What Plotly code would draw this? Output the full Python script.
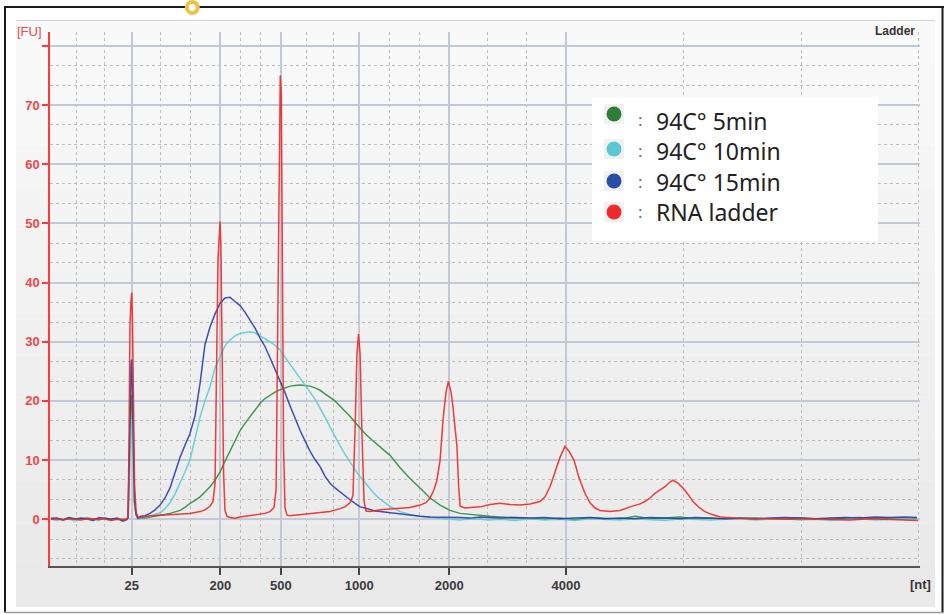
import plotly.graph_objects as go

# ---------------- data (migration time in s, fluorescence in FU) ----------------
t_samples = [19.06, 19.40, 19.75, 20.09, 20.44, 20.78, 21.13, 21.47, 21.82, 22.16,
             22.51, 22.85, 23.20, 23.43, 23.49, 23.54, 23.60, 23.66, 23.70, 23.74,
             23.80, 23.86, 23.95, 24.06, 24.23, 24.46, 24.75, 25.04, 25.33, 25.61,
             25.90, 26.19, 26.48, 26.76, 27.05, 27.34, 27.63, 27.91, 28.20, 28.49,
             28.78, 29.06, 29.35, 29.64, 29.93, 30.21, 30.50, 30.79, 31.08, 31.36,
             31.65, 31.94, 32.23, 32.51, 32.80, 33.09, 33.38, 33.66, 33.95, 34.24,
             34.53, 34.81, 35.10, 35.39, 35.68, 35.96, 36.25, 36.54, 36.83, 37.11,
             37.40, 37.69, 37.98, 38.55, 39.13, 39.70, 40.28, 40.85, 41.43, 42.00,
             42.58, 43.15, 43.73, 44.30, 44.88, 45.74, 46.60, 47.46, 48.33, 49.19,
             50.05, 50.91, 51.78, 52.64, 53.50, 54.36, 55.23, 56.09, 56.95, 57.81,
             58.68, 59.54, 60.40, 61.26, 62.13, 62.99, 63.85, 64.71, 65.58, 66.44,
             67.30, 68.16, 68.85]

fu_5min = [0.2, 0.1, 0.0, 0.2, 0.1, 0.0, 0.2, 0.1, -0.1, 0.2,
           0.0, 0.1, 0.0, 0.1, 0.3, 7, 17, 20.5, 21, 18,
           10, 3, 0.8, 0.1, 0.2, 0.2, 0.4, 0.5, 0.6, 0.8,
           1.0, 1.2, 1.5, 2.0, 2.7, 3.2, 3.8, 4.6, 5.5, 6.6,
           8.0, 9.8, 11.5, 13.2, 15.0, 16.2, 17.3, 18.5, 19.6, 20.4,
           21.0, 21.5, 21.9, 22.2, 22.5, 22.6, 22.7, 22.6, 22.5, 22.2,
           21.8, 21.2, 20.6, 20.0, 19.1, 18.3, 17.4, 16.4, 15.4, 14.5,
           13.7, 13.0, 12.3, 10.8, 8.7, 6.9, 5.3, 3.6, 2.4, 1.5,
           1.0, 0.8, 0.6, 0.5, 0.4, 0.3, 0.2, 0.0, 0.2, -0.1,
           0.3, 0.1, 0.0, 0.5, 0.1, 0.2, 0.4, 0.1, 0.2, 0.0,
           0.1, 0.2, 0.0, 0.1, 0.2, 0.1, 0.0, 0.2, 0.3, 0.1,
           0.2, 0.1, 0.2]

fu_10min = [0.0, -0.2, 0.1, 0.0, -0.3, 0.1, 0.0, -0.2, 0.1, 0.0,
            -0.1, 0.1, -0.2, 0.0, 0.2, 5, 12, 16, 17, 15,
            8, 2.5, 0.6, 0.2, 0.2, 0.3, 0.5, 0.8, 1.1, 1.8,
            2.8, 4.3, 6.1, 8.0, 10.0, 13.5, 17.3, 20.0, 22.4, 25.6,
            27.5, 29.3, 30.3, 31.0, 31.4, 31.6, 31.7, 31.5, 31.0, 30.6,
            30.0, 29.4, 28.6, 27.4, 26.2, 25.0, 23.8, 22.5, 21.4, 20.3,
            18.8, 17.2, 15.6, 14.0, 12.4, 11.0, 9.6, 8.4, 7.2, 6.2,
            5.2, 4.2, 3.4, 2.2, 1.3, 0.8, 0.5, 0.3, 0.1, 0.0,
            -0.1, 0.1, 0.0, -0.1, 0.0, -0.2, 0.1, -0.1, 0.0, -0.2,
            0.1, 0.0, -0.1, 0.1, 0.0, -0.2, 0.1, 0.0, -0.1, 0.0,
            0.1, -0.1, 0.0, 0.1, -0.1, 0.0, -0.2, 0.0, 0.1, -0.1,
            0.0, 0.1, 0.0]

fu_15min = [0.1, 0.2, -0.1, 0.3, 0.0, 0.2, 0.1, -0.2, 0.3, 0.1,
            0.0, 0.2, -0.3, 0.0, 0.3, 8, 20, 26, 27, 20,
            10, 3, 0.8, 0.2, 0.5, 0.6, 1.0, 1.6, 2.4, 3.6,
            5.3, 7.8, 10.5, 12.5, 14.5, 17.5, 23.0, 29.5, 32.5, 34.7,
            36.5, 37.4, 37.5, 36.8, 36.1, 35.0, 33.7, 32.3, 30.6, 29.2,
            27.3, 25.4, 23.5, 21.4, 19.2, 17.0, 15.0, 13.3, 11.5, 10.1,
            8.9, 7.3, 6.1, 5.3, 4.6, 3.9, 3.3, 2.7, 2.1, 1.9,
            1.6, 1.4, 1.3, 1.1, 0.9, 0.6, 0.5, 0.4, 0.4, 0.3,
            0.3, 0.2, 0.4, 0.3, 0.2, 0.3, 0.2, 0.3, 0.1, 0.2,
            0.3, 0.1, 0.2, 0.1, 0.3, 0.2, 0.1, 0.3, 0.2, 0.1,
            0.2, 0.1, 0.2, 0.3, 0.2, 0.1, 0.2, 0.3, 0.2, 0.4,
            0.3, 0.4, 0.3]

t_ladder = [19.06, 19.40, 19.75, 20.09, 20.44, 20.78, 21.13, 21.47, 21.82, 22.16,
            22.51, 22.85, 23.20, 23.43, 23.49, 23.54, 23.60, 23.66, 23.70, 23.74,
            23.80, 23.86, 23.95, 24.06, 24.23, 24.46, 24.75, 25.33, 25.90, 26.48,
            27.05, 27.63, 27.91, 28.20, 28.37, 28.49, 28.57, 28.66, 28.78, 28.83,
            28.89, 28.98, 29.06, 29.18, 29.35, 29.64, 29.93, 30.21, 30.50, 30.79,
            31.08, 31.36, 31.65, 31.88, 32.00, 32.11, 32.20, 32.24, 32.30, 32.36,
            32.43, 32.51, 32.63, 32.80, 33.38, 33.95, 34.53, 35.10, 35.68, 35.96,
            36.25, 36.42, 36.54, 36.65, 36.74, 36.83, 36.94, 37.06, 37.17, 37.40,
            37.98, 38.55, 39.13, 39.70, 40.28, 40.62, 40.85, 41.08, 41.25, 41.43,
            41.60, 41.77, 41.91, 42.06, 42.17, 42.29, 42.40, 42.49, 42.58, 42.86,
            43.15, 43.73, 44.30, 44.88, 45.45, 46.03, 46.60, 47.18, 47.46, 47.75,
            48.04, 48.33, 48.61, 48.84, 49.13, 49.42, 49.76, 50.05, 50.34, 50.63,
            51.20, 51.78, 52.35, 52.93, 53.21, 53.50, 53.79, 54.08, 54.36, 54.65,
            54.82, 55.11, 55.40, 55.69, 55.97, 56.32, 56.66, 57.07, 57.53, 58.39,
            59.25, 60.40, 61.55, 62.70, 63.85, 65.00, 66.15, 67.30, 68.16, 68.91]

fu_ladder = [0.0, 0.1, -0.1, 0.1, 0.0, -0.1, 0.1, 0.0, 0.0, 0.1,
             -0.2, 0.0, -0.1, 0.0, 0.5, 12, 33, 37, 38.3, 34,
             22, 6, 1.2, 0.4, 0.3, 0.4, 0.6, 0.7, 0.8, 1.0,
             1.0, 1.3, 1.6, 2.2, 3.0, 6, 22, 44, 50.3, 46,
             30, 8, 1.5, 0.5, 0.3, 0.2, 0.4, 0.5, 0.6, 0.8,
             0.9, 1.0, 1.3, 2.0, 5, 35, 68, 75, 72, 50,
             12, 2, 0.7, 0.6, 0.8, 1.0, 1.1, 1.3, 1.8, 2.1,
             2.8, 4, 15, 28, 31.3, 28, 14, 3, 1.4, 1.3,
             1.6, 1.7, 1.9, 2.0, 2.4, 2.8, 3.6, 5.0, 6.6, 10,
             16.8, 21.5, 23.3, 21.5, 19, 15.5, 12.3, 6, 2.2, 1.9,
             2.0, 2.1, 2.5, 2.7, 2.5, 2.4, 2.6, 3.0, 3.8, 5.5,
             8.0, 10.5, 12.3, 11.5, 10.0, 7.0, 4.4, 2.8, 1.9, 1.5,
             1.3, 1.5, 2.1, 2.6, 3.0, 3.6, 4.4, 4.9, 5.5, 6.3,
             6.6, 6.1, 5.3, 4.2, 3.0, 2.0, 1.3, 0.8, 0.4, 0.2,
             0.1, 0.1, 0.0, 0.1, 0.0, -0.1, 0.1, 0.0, -0.1, -0.2]

x_tick_pos = [23.70, 28.80, 32.27, 36.78, 41.96, 48.67]
x_tick_labels = ["25", "200", "500", "1000", "2000", "4000"]
x_minor_pos = [20.54, 22.11, 25.37, 27.05, 29.93, 31.08, 33.76, 35.29,
               38.51, 40.23, 44.13, 46.37, 55.41, 62.22, 68.93]
y_tick_vals = [0, 10, 20, 30, 40, 50, 60, 70, 80]
y_tick_labels = ["0", "10", "20", "30", "40", "50", "60", "70", ""]

legend_labels = ["94C° 5min", "94C° 10min", "94C° 15min", "RNA ladder"]
line_colors = ["#2f8f40", "#5ccdd4", "#2d3fa6", "#f02828"]
dot_colors = ["#2e7d3a", "#5cc8d2", "#2a4ea8", "#ee2a2a"]

# ---------------- figure ----------------
W, H = 948, 614
L, R, T, B = 50, 28, 32, 48
PW, PH = W - L - R, H - T - B


def px(x):
    return (x - L) / PW


def py(y):
    return (H - B - y) / PH


fig = go.Figure()
series = [(t_samples, fu_5min), (t_samples, fu_10min), (t_samples, fu_15min), (t_ladder, fu_ladder)]
for (tx, fy), name, col in zip(series, legend_labels, line_colors):
    fig.add_trace(go.Scatter(x=tx, y=fy, mode="lines", name=name,
                             line=dict(color=col, width=1.5), opacity=0.9))

shapes = []
# gradient panel background
n = 14
top, bot = 20, 607
for i in range(n):
    y0 = top + (bot - top) * i / n
    y1 = top + (bot - top) * (i + 1) / n
    g = int(round(249 - (249 - 233) * i / (n - 1)))
    shapes.append(dict(type="rect", xref="paper", yref="paper", layer="below",
                       x0=px(16), x1=px(935), y0=py(y1), y1=py(y0),
                       fillcolor=f"rgb({g},{g},{g})", line=dict(width=0)))
shapes.append(dict(type="line", xref="paper", yref="paper", layer="below",
                   x0=px(16), x1=px(935), y0=py(20.5), y1=py(20.5),
                   line=dict(color="#d4d4d4", width=1)))
# outer frame
shapes += [
    dict(type="line", xref="paper", yref="paper", x0=px(5), x1=px(5), y0=py(7), y1=py(613),
         line=dict(color="#1a1a1a", width=2)),
    dict(type="line", xref="paper", yref="paper", x0=px(4), x1=px(944), y0=py(7), y1=py(7),
         line=dict(color="#1a1a1a", width=2)),
    dict(type="line", xref="paper", yref="paper", x0=px(942.5), x1=px(942.5), y0=py(7), y1=py(613),
         line=dict(color="#1a1a1a", width=2)),
    dict(type="line", xref="paper", yref="paper", x0=px(4), x1=px(944), y0=py(612.5), y1=py(612.5),
         line=dict(color="#9a9a9a", width=1.5)),
    dict(type="circle", xref="paper", yref="paper", x0=px(186.8), x1=px(197.8), y0=py(13), y1=py(2),
         fillcolor="white", line=dict(color="#e8c34a", width=4)),
]
# legend box
shapes.append(dict(type="rect", xref="paper", yref="paper", layer="above",
                   x0=px(592), x1=px(878), y0=py(241), y1=py(97),
                   fillcolor="white", line=dict(width=0)))
dot_y = [114, 149, 181, 212]
text_y = [121, 151, 182, 212]
for yc, c in zip(dot_y, dot_colors):
    shapes.append(dict(type="rect", xref="paper", yref="paper", layer="above",
                       x0=px(604), x1=px(624), y0=py(yc + 10), y1=py(yc - 10),
                       fillcolor="#f1f1f1", line=dict(width=0)))
    shapes.append(dict(type="circle", xref="paper", yref="paper", layer="above",
                       x0=px(606.5), x1=px(621.5), y0=py(yc + 7.5), y1=py(yc - 7.5),
                       fillcolor=c, line=dict(width=0)))

annotations = [
    dict(text="[FU]", x=px(15), y=py(31), xref="paper", yref="paper", xanchor="left", yanchor="middle",
         showarrow=False, font=dict(color="#f04848", size=13)),
    dict(text="Ladder", x=px(917), y=py(31), xref="paper", yref="paper", xanchor="right", yanchor="middle",
         showarrow=False, font=dict(color="#333333", size=12, weight="bold")),
    dict(text="[nt]", x=px(933), y=py(584), xref="paper", yref="paper", xanchor="right", yanchor="middle",
         showarrow=False, font=dict(color="#333333", size=13, weight="bold")),
]
for yt, lab in zip(text_y, legend_labels):
    annotations.append(dict(text=":", x=px(636), y=py(yt - 1), xref="paper", yref="paper",
                            xanchor="left", yanchor="middle", showarrow=False,
                            font=dict(color="#7468b0", size=17, family="Noto Sans")))
    annotations.append(dict(text=lab, x=px(654), y=py(yt), xref="paper", yref="paper",
                            xanchor="left", yanchor="middle", showarrow=False,
                            font=dict(color="#222222", size=23, family="Noto Sans")))

fig.update_layout(
    width=W, height=H,
    margin=dict(l=L, r=R, t=T, b=B, pad=0),
    paper_bgcolor="white",
    plot_bgcolor="rgba(0,0,0,0)",
    showlegend=False,
    font=dict(family="Liberation Sans", size=13),
    shapes=shapes,
    annotations=annotations,
    xaxis=dict(
        range=[19.0, 69.025], tickmode="array", tickvals=x_tick_pos, ticktext=x_tick_labels,
        showgrid=True, gridcolor="#c2c9d5", gridwidth=1.5,
        showline=True, linecolor="#555555", linewidth=1.5,
        ticks="outside", ticklen=7, tickcolor="#444444", tickwidth=1.5,
        tickfont=dict(color="#3a3a3a", size=13, weight="bold"),
        zeroline=False,
        minor=dict(tickmode="array", tickvals=x_minor_pos, showgrid=True,
                   gridcolor="#bdbdbd", griddash="3px,3px", gridwidth=1, ticks=""),
    ),
    yaxis=dict(
        range=[-7.89, 82.33], tickmode="array", tickvals=y_tick_vals, ticktext=y_tick_labels,
        showgrid=True, gridcolor="#c2c9d5", gridwidth=1.5,
        showline=True, linecolor="#ff3a3a", linewidth=1.5,
        ticks="outside", ticklen=6, tickcolor="#ff3a3a", tickwidth=1.5,
        tickfont=dict(color="#f04848", size=13, weight="bold"),
        zeroline=False,
        minor=dict(tick0=0, dtick=10 / 3, showgrid=True,
                   gridcolor="#bdbdbd", griddash="3px,3px", gridwidth=1, ticks=""),
    ),
)

fig.write_html("out.html", config={"displayModeBar": False},
               post_script="document.body.style.margin='0';document.body.style.overflow='hidden';")
